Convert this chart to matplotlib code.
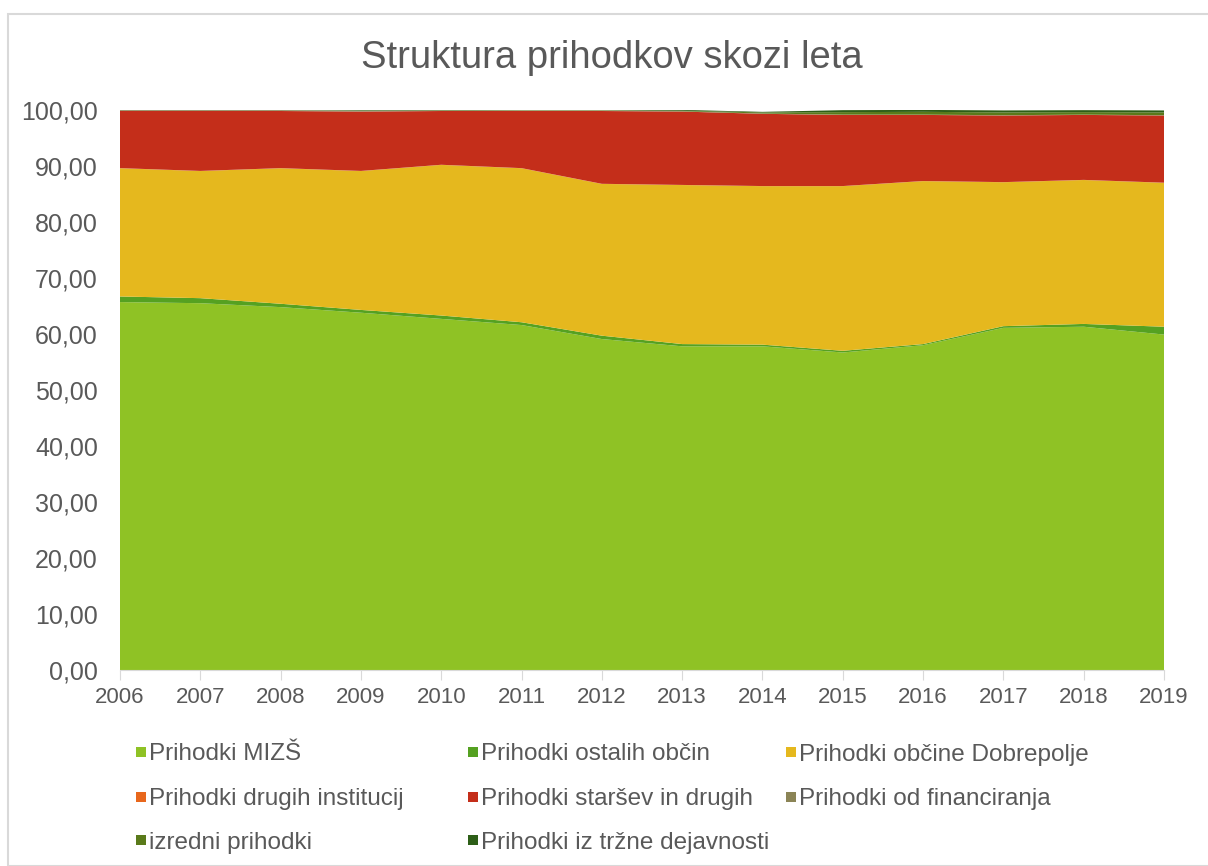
import matplotlib
matplotlib.use("Agg")
import matplotlib.pyplot as plt
from matplotlib.patches import Rectangle
import numpy as np

years = [2006, 2007, 2008, 2009, 2010, 2011, 2012, 2013, 2014, 2015, 2016, 2017, 2018, 2019]

mizs = [65.7, 65.5, 64.8, 63.8, 62.7, 61.6, 59.1, 57.8, 57.8, 56.7, 58.0, 61.1, 61.3, 59.9]
ostalih = [1.0, 0.9, 0.6, 0.5, 0.6, 0.5, 0.6, 0.4, 0.3, 0.3, 0.2, 0.3, 0.5, 1.4]
dobrepolje = [22.9, 22.7, 24.2, 24.8, 26.9, 27.5, 27.1, 28.4, 28.3, 29.4, 29.1, 25.7, 25.7, 25.7]
drugih = [0.02, 0.02, 0.02, 0.02, 0.02, 0.02, 0.02, 0.02, 0.02, 0.02, 0.02, 0.02, 0.02, 0.02]
starsev = [10.2, 10.7, 10.2, 10.6, 9.6, 10.2, 13.0, 13.1, 12.9, 12.7, 11.8, 11.9, 11.6, 12.0]
financiranja = [0.15, 0.15, 0.15, 0.1, 0.1, 0.1, 0.1, 0.05, 0.05, 0.05, 0.05, 0.05, 0.05, 0.05]
izredni = [0.0, 0.0, 0.0, 0.05, 0.05, 0.05, 0.05, 0.1, 0.2, 0.45, 0.5, 0.5, 0.45, 0.5]
trzne = [0.0, 0.0, 0.0, 0.1, 0.05, 0.0, 0.0, 0.15, 0.1, 0.35, 0.35, 0.35, 0.35, 0.35]

labels = ["Prihodki MIZŠ", "Prihodki ostalih občin", "Prihodki občine Dobrepolje",
          "Prihodki drugih institucij", "Prihodki staršev in drugih", "Prihodki od financiranja",
          "izredni prihodki", "Prihodki iz tržne dejavnosti"]
colors = ["#8FC225", "#55A121", "#E5B81E", "#E8671C", "#C42E1A", "#8B8456", "#5A7A1A", "#2D5E17"]

y_ticks = [0, 10, 20, 30, 40, 50, 60, 70, 80, 90, 100]

plt.rcParams['font.family'] = ['Liberation Sans', 'DejaVu Sans']
txt = "#595959"
W, H = 1208, 866

fig = plt.figure(figsize=(W / 100, H / 100), dpi=100)
fig.patches.append(Rectangle((8 / W, 0), 1.2, 1 - 14 / H, transform=fig.transFigure,
                             fill=False, edgecolor="#d9d9d9", linewidth=1.5, zorder=0))
ax = fig.add_axes([120 / W, 196 / H, 1044 / W, 560 / H])

series = [mizs, ostalih, dobrepolje, drugih, starsev, financiranja, izredni, trzne]
ax.stackplot(years, *series, colors=colors, linewidth=0)

ax.set_xlim(2006, 2019)
ax.set_ylim(0, 100)
ax.set_xticks(years)
ax.set_xticklabels([str(y) for y in years], fontsize=16, color=txt)
ax.set_yticks(y_ticks)
ax.set_yticklabels([f"{v:.2f}".replace(".", ",") for v in y_ticks], fontsize=18, color=txt)
ax.tick_params(axis='y', length=0, pad=16)
ax.tick_params(axis='x', length=7, color="#d9d9d9", pad=5)
for s in ["top", "right", "left"]:
    ax.spines[s].set_visible(False)
ax.spines["bottom"].set_color("#d9d9d9")

fig.text(612 / W, 1 - 58 / H, "Struktura prihodkov skozi leta", ha="center", va="center",
         fontsize=27.5, color=txt)

# legend laid out row-wise in three fixed-width columns
col_x = [136, 468, 786]
row_y = [752, 797, 840]
msize = 10
for i, (lab, col) in enumerate(zip(labels, colors)):
    r, c = divmod(i, 3)
    x0, yc = col_x[c], row_y[r]
    fig.patches.append(Rectangle((x0 / W, 1 - (yc + msize / 2) / H), msize / W, msize / H,
                                 transform=fig.transFigure, facecolor=col, edgecolor="none"))
    fig.text((x0 + msize + 3) / W, 1 - yc / H, lab, ha="left", va="center_baseline",
             fontsize=17.5, color=txt)

fig.savefig("out.png", dpi=100)
